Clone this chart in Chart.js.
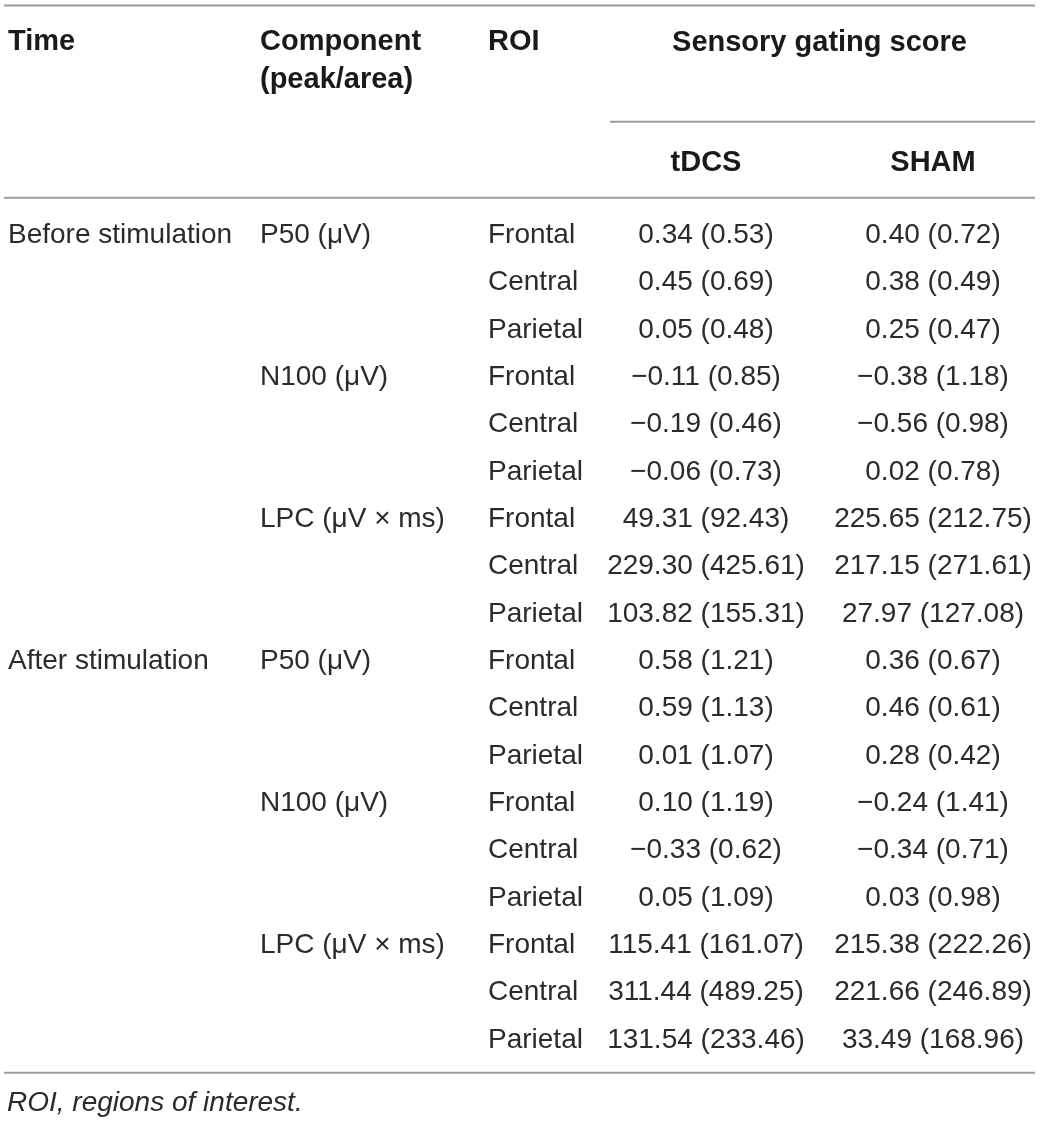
<!DOCTYPE html>
<html>
<head>
<meta charset="utf-8">
<script src="https://cdn.jsdelivr.net/npm/chart.js@4/dist/chart.umd.min.js"></script>
<style>
  html, body { margin: 0; padding: 0; background: #fff; }
  canvas { display: block; }
</style>
</head>
<body>
<canvas id="gatingTable" width="1040" height="1122"></canvas>
<script>
// table content
const timePoints = ["Before stimulation", "After stimulation"];
const components = ["P50 (\u03bcV)", "N100 (\u03bcV)", "LPC (\u03bcV \u00d7 ms)"];
const rois = ["Frontal", "Central", "Parietal"];
const groups = ["tDCS", "SHAM"];

// mean and sd per row: before (P50, N100, LPC x F/C/P) then after
const tdcsMean = [0.34, 0.45, 0.05, -0.11, -0.19, -0.06, 49.31, 229.30, 103.82,
                  0.58, 0.59, 0.01, 0.10, -0.33, 0.05, 115.41, 311.44, 131.54];
const tdcsSd = [0.53, 0.69, 0.48, 0.85, 0.46, 0.73, 92.43, 425.61, 155.31,
                1.21, 1.13, 1.07, 1.19, 0.62, 1.09, 161.07, 489.25, 233.46];
const shamMean = [0.40, 0.38, 0.25, -0.38, -0.56, 0.02, 225.65, 217.15, 27.97,
                  0.36, 0.46, 0.28, -0.24, -0.34, 0.03, 215.38, 221.66, 33.49];
const shamSd = [0.72, 0.49, 0.47, 1.18, 0.98, 0.78, 212.75, 271.61, 127.08,
                0.67, 0.61, 0.42, 1.41, 0.71, 0.98, 222.26, 246.89, 168.96];

const rowCount = tdcsMean.length;

// column layout (pixels across the page)
const colAnchor = { time: 8, comp: 260, roi: 488, tdcs: 706, sham: 933 };

const FONT = '"Liberation Sans", Arial, sans-serif';
const fmt = v => (v < 0 ? "\u2212" : "") + Math.abs(v).toFixed(2);
const cell = (m, s) => m.map((v, i) => fmt(v) + " (" + s[i].toFixed(2) + ")");

function column(key, texts, rowsPerEntry, align) {
    return {
        label: key,
        texts: texts,
        align: align,
        data: texts.map((t, i) => ({ x: colAnchor[key], y: i * rowsPerEntry })),
        pointRadius: 0,
        pointHoverRadius: 0,
    };
}

const roiTexts = Array.from({ length: rowCount }, (_, i) => rois[i % rois.length]);
const compTexts = Array.from({ length: rowCount / 3 }, (_, i) => components[i % components.length]);

const datasets = [
    column("time", timePoints, rowCount / timePoints.length, "left"),
    column("comp", compTexts, 3, "left"),
    column("roi", roiTexts, 1, "left"),
    column("tdcs", cell(tdcsMean, tdcsSd), 1, "center"),
    column("sham", cell(shamMean, shamSd), 1, "center"),
];

const tablePlugin = {
    id: "tablePlugin",
    afterDatasetsDraw(chart) {
        const ctx = chart.ctx;
        ctx.save();
        ctx.fillStyle = "#2b2b2b";
        ctx.textBaseline = "alphabetic";
        ctx.font = "28px " + FONT;
        chart.data.datasets.forEach((ds, di) => {
            const meta = chart.getDatasetMeta(di);
            ctx.textAlign = ds.align;
            meta.data.forEach((el, i) => {
                ctx.fillText(ds.texts[i], el.x, el.y + 10);
            });
        });

        // header
        ctx.fillStyle = "#1a1a1a";
        ctx.font = "bold 29px " + FONT;
        ctx.textAlign = "left";
        ctx.fillText("Time", colAnchor.time, 50);
        ctx.fillText("Component", colAnchor.comp, 50);
        ctx.fillText("(peak/area)", colAnchor.comp, 88);
        ctx.fillText("ROI", colAnchor.roi, 50);
        ctx.textAlign = "center";
        ctx.fillText("Sensory gating score", (colAnchor.tdcs + colAnchor.sham) / 2, 51);
        ctx.fillText(groups[0], colAnchor.tdcs, 171);
        ctx.fillText(groups[1], colAnchor.sham, 171);

        // rules
        ctx.strokeStyle = "#9c9c9c";
        ctx.lineWidth = 2;
        const rule = (x0, x1, y) => {
            ctx.beginPath();
            ctx.moveTo(x0, y);
            ctx.lineTo(x1, y);
            ctx.stroke();
        };
        rule(4, 1035, 5.5);
        rule(610, 1035, 121.7);
        rule(4, 1035, 197.7);
        rule(4, 1035, 1072.7);

        // footnote
        ctx.fillStyle = "#2b2b2b";
        ctx.textAlign = "left";
        ctx.font = "italic 28px " + FONT;
        ctx.fillText("ROI, regions of interest.", 7, 1110.7);
        ctx.restore();
    },
};

new Chart(document.getElementById("gatingTable"), {
    type: "scatter",
    data: { datasets: datasets },
    options: {
        responsive: false,
        animation: false,
        events: [],
        layout: { padding: { top: 209.3, bottom: 60.7, left: 0, right: 0 } },
        scales: {
            x: { type: "linear", min: 0, max: 1040, display: false },
            y: { type: "linear", min: -0.5, max: rowCount - 0.5, reverse: true, display: false },
        },
        plugins: {
            legend: { display: false },
            tooltip: { enabled: false },
        },
    },
    plugins: [tablePlugin],
});
</script>
</body>
</html>
